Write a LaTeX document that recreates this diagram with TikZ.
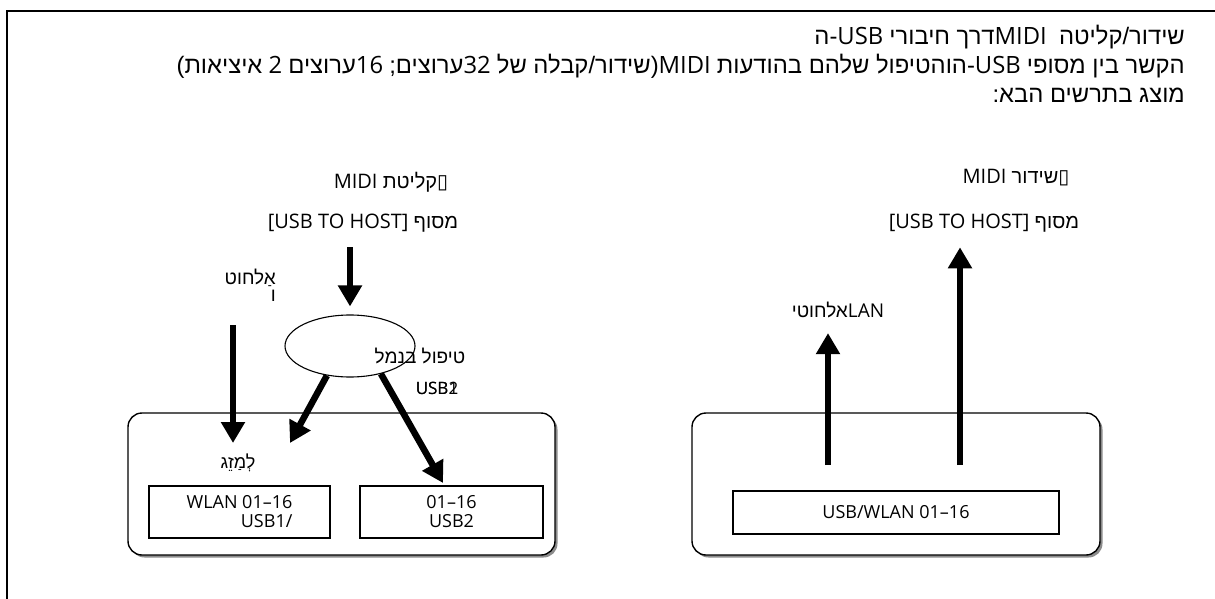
\documentclass[tikz,border=0pt]{standalone}
\usepackage{fontspec}
\setmainfont{Open Sans}
\newfontfamily\hefont[Script=Hebrew]{Liberation Sans}
\newfontfamily\symfont{DejaVu Sans}
\TeXXeTstate=1
\usetikzlibrary{
    arrows.meta,
    positioning,
    shapes.geometric,
    shadows
}

\begin{document}
\begin{tikzpicture}[x=1pt,y=-1pt,
    lbl/.style={inner sep=0pt,font=\fontsize{20}{24}\selectfont},
    hdr/.style={inner sep=0pt,anchor=east,font=\fontsize{23.8}{28}\selectfont},
    panel/.style={draw,line width=1.4pt,rounded corners=14pt,fill=white,
        drop shadow={shadow xshift=2.5pt,shadow yshift=-2.5pt,fill=black!45,opacity=1}},
    portbox/.style={draw,line width=1.3pt,inner sep=0pt,
        font=\fontsize{18}{19}\selectfont},
    bigarrow/.style={line width=6.5pt,-{Triangle[width=23pt,length=21pt]}}]

\useasboundingbox (0,0) rectangle (1215,599);

% Frame
\draw[line width=1.5pt] (7,599) -- (7,11) -- (1215,11);

% Heading
\node[hdr] (title1) at (1185,37)
  {\beginR{\hefont שידור/קליטה}\ \ MIDI{\hefont דרך חיבורי} USB{\hefont -ה}\endR};
\node[hdr] (title2) at (1185,66)
  {\beginR{\hefont הקשר בין מסופי} USB{\hefont -הוהטיפול שלהם בהודעות} MIDI{\hefont (שידור/קבלה של} 32{\hefont ערוצים;} 16{\hefont ערוצים} 2 {\hefont איציאות)}\endR};
\node[hdr] (title3) at (1185,95)
  {\beginR{\hefont מוצג בתרשים הבא:}\endR};

% Reception side
\node[lbl] (rxhead) at (391,182) {\beginR{\symfont ▯}{\hefont קליטת} MIDI\endR};
\node[lbl] (rxport) at (363,223) {\beginR{\hefont מסוף} \beginL[USB TO HOST]\endL\endR};
\node[lbl,align=right,anchor=east,font=\fontsize{19}{17}\selectfont] (wless)
  at (276,285) {{\hefont אַלחוט}\\{\hefont ו}};

\node[ellipse,draw,line width=1.1pt,minimum width=130pt,minimum height=62pt,
      inner sep=0pt] (merge) at (350,346) {};
\node[lbl,font=\fontsize{19}{22}\selectfont] (mergelbl) at (420,356)
  {\beginR{\hefont טיפול בנמל}\endR};
\node[lbl,font=\fontsize{17}{20}\selectfont] (usbone) at (437,388) {USB1};
\node[lbl,font=\fontsize{17}{20}\selectfont] (usbtwo) at (437,388) {USB2};

\node[panel,minimum width=427pt,minimum height=142pt] (rxpanel) at (341.5,484) {};
\node[lbl,font=\fontsize{18}{20}\selectfont] (mixlbl) at (238,463) {{\hefont לְמַזֵג}};
\node[portbox,minimum width=181pt,minimum height=52pt,align=right] (rxwlan)
  at (239.5,512) {WLAN 01–16\\USB1/};
\node[portbox,minimum width=183pt,minimum height=52pt,align=center] (rxusb)
  at (451.5,512) {01–16\\USB2};

\coordinate (wl-top) at (233,325);
\coordinate (wl-tip) at (233,443);
\coordinate (mix-tip) at (290,443);
\coordinate (usb-tip) at (443,483);

\draw[bigarrow,shorten <=15pt,shorten >=8pt] (rxport.south -| merge.north) -- (merge.north);
\draw[bigarrow] (wl-top) -- (wl-tip);
\draw[bigarrow] (merge.232) -- (mix-tip);
\draw[bigarrow] (merge.318) -- (usb-tip);

% Transmission side
\node[lbl] (txhead) at (1016,178) {\beginR{\symfont ▯}{\hefont שידור} MIDI\endR};
\node[lbl] (txport) at (984,223) {\beginR{\hefont מסוף} \beginL[USB TO HOST]\endL\endR};
\node[lbl,font=\fontsize{19}{22}\selectfont] (lanlbl) at (838,310)
  {\beginR LAN{\hefont אלחוטי}\endR};

\node[panel,minimum width=408pt,minimum height=142pt] (txpanel) at (896,484) {};
\node[portbox,minimum width=326pt,minimum height=43pt] (txwlan) at (896,512.5)
  {USB/WLAN 01–16};

\coordinate (lan-src) at (828,465);
\coordinate (host-src) at (960,465);

\draw[bigarrow,shorten >=15pt] (lan-src) -- (lan-src |- lanlbl.south);
\draw[bigarrow,shorten >=15pt] (host-src) -- (host-src |- txport.south);

\end{tikzpicture}
\end{document}
